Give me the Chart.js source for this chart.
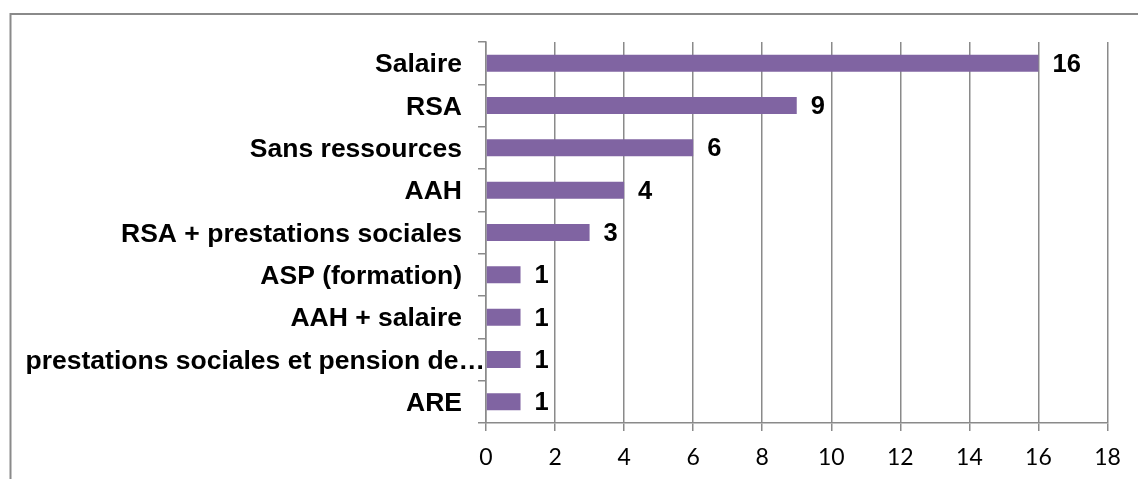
<!DOCTYPE html>
<html>
<head>
<meta charset="utf-8">
<script src="https://cdn.jsdelivr.net/npm/chart.js@4"></script>
<style>
  html, body { margin: 0; padding: 0; background: #ffffff; }
  #wrap { position: relative; width: 1138px; height: 479px; }
</style>
</head>
<body>
<div id="wrap"><canvas id="c" width="1138" height="479"></canvas></div>
<script>
const categories = [
  "Salaire",
  "RSA",
  "Sans ressources",
  "AAH",
  "RSA + prestations sociales",
  "ASP (formation)",
  "AAH + salaire",
  "prestations sociales et pension de\u2026",
  "ARE"
];
const values = [16, 9, 6, 4, 3, 1, 1, 1, 1];
const xTickValues = [0, 2, 4, 6, 8, 10, 12, 14, 16, 18];

const truncIndex = categories.length - 2;
const catFont = 'bold 26.5px "Liberation Sans", Arial, sans-serif';
const valueFont = 'bold 25.5px "Liberation Sans", Arial, sans-serif';
const gridColor = '#8a8a8a';

const framePlugin = {
  id: 'frame',
  beforeDraw(chart) {
    const ctx = chart.ctx;
    ctx.save();
    ctx.fillStyle = '#ffffff';
    ctx.fillRect(0, 0, chart.width, chart.height);
    ctx.strokeStyle = '#8a8a8a';
    ctx.lineWidth = 2;
    ctx.beginPath();
    ctx.moveTo(10.5, chart.height + 5);
    ctx.lineTo(10.5, 14);
    ctx.lineTo(chart.width + 5, 14);
    ctx.stroke();
    ctx.restore();
  }
};

const labelsPlugin = {
  id: 'valueLabels',
  afterDraw(chart) {
    const ctx = chart.ctx;
    const meta = chart.getDatasetMeta(0);
    ctx.save();
    ctx.font = valueFont;
    ctx.fillStyle = '#000000';
    ctx.textAlign = 'left';
    ctx.textBaseline = 'middle';
    meta.data.forEach((bar, i) => {
      ctx.fillText(String(values[i]), bar.x + 14, bar.y + 1.5);
    });
    // category labels, right-aligned left of the axis; the truncated one runs up to the axis
    const yScale = chart.scales.y;
    ctx.font = catFont;
    ctx.textAlign = 'right';
    categories.forEach((name, i) => {
      const x = i === truncIndex ? yScale.right - 1 : yScale.right - 24;
      ctx.fillText(name, x, yScale.getPixelForTick(i) + 2);
    });
    ctx.restore();
  }
};

new Chart(document.getElementById('c'), {
  type: 'bar',
  data: {
    labels: categories,
    datasets: [{
      data: values,
      backgroundColor: '#8064A2',
      borderWidth: 0,
      barPercentage: 0.4,
      categoryPercentage: 1.0
    }]
  },
  options: {
    indexAxis: 'y',
    responsive: false,
    animation: false,
    devicePixelRatio: 1,
    layout: { padding: { left: 0, top: 42, right: 30.5, bottom: 0 } },
    plugins: {
      legend: { display: false },
      tooltip: { enabled: false }
    },
    scales: {
      x: {
        type: 'linear',
        min: 0,
        max: 18,
        afterBuildTicks(scale) {
          scale.ticks = xTickValues.map(v => ({ value: v }));
        },
        afterFit(scale) { scale.height = 56; },
        grid: {
          display: true,
          color: gridColor,
          lineWidth: 1.5,
          drawTicks: true,
          tickLength: 8
        },
        border: { display: true, color: gridColor, width: 1.5 },
        ticks: {
          color: '#000000',
          padding: 13,
          font: { family: 'Lato, "Open Sans", sans-serif', size: 23 },
          maxRotation: 0
        }
      },
      y: {
        type: 'category',
        afterFit(scale) { scale.width = 486; },
        grid: {
          display: true,
          drawOnChartArea: false,
          drawTicks: true,
          tickLength: 8,
          color: gridColor,
          lineWidth: 1.5,
          offset: true
        },
        border: { display: true, color: gridColor, width: 1.5 },
        ticks: {
          color: 'rgba(0,0,0,0)',
          padding: 16,
          autoSkip: false,
          font: { family: '"Liberation Sans", Arial, sans-serif', size: 26, weight: 'bold' }
        }
      }
    }
  },
  plugins: [framePlugin, labelsPlugin]
});
</script>
</body>
</html>
